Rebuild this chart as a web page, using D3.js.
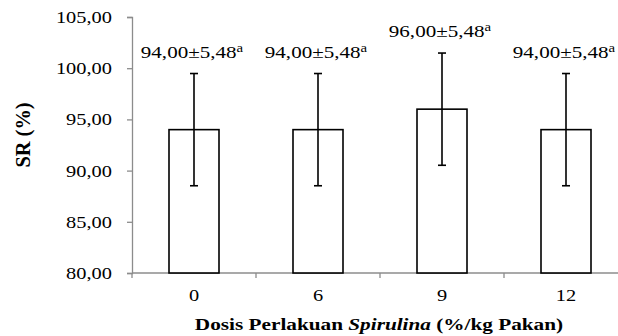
<!DOCTYPE html>
<html>
<head>
<meta charset="utf-8">
<script src="https://cdn.jsdelivr.net/npm/d3@7"></script>
<style>
  body { margin: 0; background: #fff; }
  svg { display: block; }
  text { font-family: "Liberation Serif", "Times New Roman", serif; fill: #000; }
</style>
</head>
<body>
<svg id="chart" width="618" height="336"></svg>
<script>
const doses = ["0", "6", "9", "12"];
const means = [94.00, 94.00, 96.00, 94.00];
const sds = [5.48, 5.48, 5.48, 5.48];
const letters = ["a", "a", "a", "a"];
const yTicks = [80, 85, 90, 95, 100, 105];

const width = 618;
const height = 336;
const margin = {left: 132, top: 17, bottom: 63};
const fs = 17;      // font size
const sx = 1.2;     // the reference text is drawn a bit wide

const svg = d3.select("svg#chart");

const fmt = v => d3.format(".2f")(v).replace(".", ",");

const x = d3.scaleBand()
  .domain(doses)
  .range([margin.left, 628]);

const y = d3.scaleLinear()
  .domain([80, 105])
  .range([height - margin.bottom, margin.top]);

const axisColor = "#8c8c8c";

// y axis
const yAxis = svg.append("g")
  .attr("transform", `translate(${margin.left},0)`)
  .call(d3.axisLeft(y).tickValues(yTicks).tickFormat(fmt).tickSize(5).tickPadding(15));
yAxis.select(".domain").attr("stroke", axisColor).attr("stroke-width", 1.3);
yAxis.selectAll(".tick line").attr("stroke", axisColor).attr("stroke-width", 1.3);
yAxis.selectAll(".tick text")
  .attr("x", 0)
  .attr("transform", `translate(-20,0) scale(${sx},1)`)
  .attr("font-size", fs)
  .attr("font-family", "Liberation Serif")
  .attr("fill", "#000");

// x axis
const xAxisG = svg.append("g")
  .attr("transform", `translate(0,${y(80)})`);
xAxisG.append("line")
  .attr("x1", margin.left).attr("x2", width)
  .attr("stroke", axisColor).attr("stroke-width", 1.3);
xAxisG.selectAll("line.tk")
  .data(doses)
  .join("line")
    .attr("class", "tk")
    .attr("x1", d => x(d)).attr("x2", d => x(d))
    .attr("y1", 0).attr("y2", 5)
    .attr("stroke", axisColor).attr("stroke-width", 1.3);
xAxisG.selectAll("text")
  .data(doses)
  .join("text")
    .attr("transform", d => `translate(${x(d) + x.bandwidth() / 2},28) scale(${sx},1)`)
    .attr("text-anchor", "middle")
    .attr("font-size", fs)
    .text(d => d);

// bars
const barW = 50;
svg.append("g")
  .selectAll("rect")
  .data(doses)
  .join("rect")
    .attr("x", d => x(d) + x.bandwidth() / 2 - barW / 2)
    .attr("y", (d, i) => y(means[i]))
    .attr("width", barW)
    .attr("height", (d, i) => y(80) - y(means[i]))
    .attr("fill", "#fff")
    .attr("stroke", "#000")
    .attr("stroke-width", 1.6);

// error bars
const err = svg.append("g").attr("stroke", "#000").attr("stroke-width", 1.6);
doses.forEach((d, i) => {
  const cx = x(d) + x.bandwidth() / 2;
  const hi = y(means[i] + sds[i]);
  const lo = y(means[i] - sds[i]);
  err.append("line").attr("x1", cx).attr("x2", cx).attr("y1", hi).attr("y2", lo);
  err.append("line").attr("x1", cx - 4).attr("x2", cx + 4).attr("y1", hi).attr("y2", hi);
  err.append("line").attr("x1", cx - 4).attr("x2", cx + 4).attr("y1", lo).attr("y2", lo);
});

// value labels
const lbl = svg.append("g")
  .selectAll("text")
  .data(doses)
  .join("text")
    .attr("transform", (d, i) =>
      `translate(${x(d) + x.bandwidth() / 2 - 2},${y(means[i] + sds[i]) - 16}) scale(1.24,1)`)
    .attr("text-anchor", "middle")
    .attr("font-size", fs);
lbl.append("tspan").text((d, i) => `${fmt(means[i])}±${fmt(sds[i])}`);
lbl.append("tspan")
  .attr("font-size", 12)
  .attr("dy", -6)
  .text((d, i) => letters[i]);

// axis titles
const xt = svg.append("text")
  .attr("transform", `translate(379,330) scale(1.25,1)`)
  .attr("text-anchor", "middle")
  .attr("font-size", fs)
  .attr("font-weight", "bold");
xt.append("tspan").text("Dosis Perlakuan ");
xt.append("tspan").attr("font-style", "italic").text("Spirulina");
xt.append("tspan").text(" (%/kg Pakan)");

svg.append("text")
  .attr("transform", `translate(30,135) rotate(-90) scale(1.2,${sx})`)
  .attr("text-anchor", "middle")
  .attr("font-size", fs)
  .attr("font-weight", "bold")
  .text("SR (%)");
</script>
</body>
</html>
